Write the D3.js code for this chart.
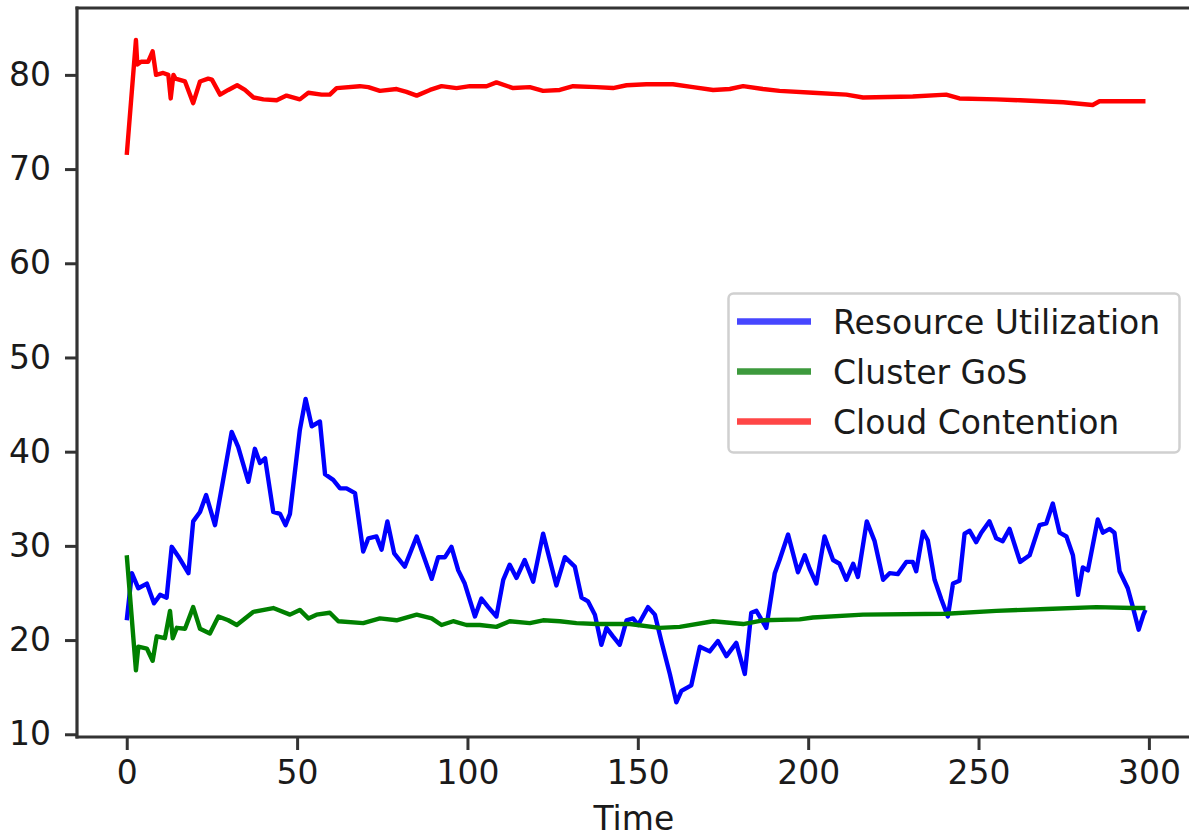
<!DOCTYPE html>
<html>
<head>
<meta charset="utf-8">
<script src="https://cdn.jsdelivr.net/npm/d3@7"></script>
<style>
  html, body { margin: 0; padding: 0; background: #fff; }
  svg { display: block; font-family: "DejaVu Sans", sans-serif; }
</style>
</head>
<body>
<svg id="chart" width="1189" height="839"></svg>
<script>
// ---- data ----
const seriesNames = ["Resource Utilization", "Cluster GoS", "Cloud Contention"];
const seriesColors = ["#0000ff", "#008000", "#ff0000"];
const legendColors = ["#4646ff", "#3d9a3d", "#ff4646"];

const tRU = [0,1.5,3.4,5.9,8.0,9.8,11.7,13.2,15.1,18.1,19.5,21.5,23.3,25.9,28.3,30.8,32.7,35.7,37.6,39.1,40.6,43.0,45.0,46.6,47.9,50.8,52.5,54.3,56.7,58.2,60.6,62.6,64.5,67.0,69.4,70.9,73.3,74.8,76.5,78.5,81.6,85.1,89.5,91.4,93.4,95.3,97.3,99.2,102.2,104.1,106.1,108.5,110.5,112.4,114.4,116.8,119.3,122.2,126.1,128.6,131.5,133.5,135.4,137.4,139.3,140.8,142.7,144.7,146.7,148.6,150.1,153.0,155.0,156.9,159.4,161.3,162.8,165.7,168.2,171.1,173.5,176.0,178.9,181.4,183.3,184.8,187.7,190.2,191.6,194.1,197.0,199.0,200.4,202.4,204.8,207.3,209.2,211.2,213.2,214.6,217.2,219.5,222.0,223.9,226.3,228.8,230.7,231.7,233.7,235.1,237.1,239.1,241.0,242.5,244.4,245.9,247.4,249.3,250.8,253.2,255.2,257.1,259.1,262.2,265.0,267.9,269.9,271.8,273.8,275.8,277.7,279.2,280.6,282.1,285.0,286.5,288.5,289.9,291.4,293.8,295.3,297.0,298.4,299];
const vRU = [22.1,27.1,25.5,26.0,23.9,24.8,24.5,29.9,28.9,27.1,32.6,33.6,35.4,32.2,37.0,42.1,40.5,36.8,40.3,38.8,39.3,33.6,33.4,32.2,33.4,42.3,45.6,42.7,43.2,37.6,37.0,36.1,36.1,35.6,29.4,30.8,31.0,29.6,32.6,29.2,27.8,31.0,26.5,28.8,28.8,29.9,27.4,26.0,22.5,24.4,23.5,22.5,26.4,28.0,26.6,28.5,26.2,31.3,25.8,28.8,27.8,24.5,24.1,22.7,19.5,21.3,20.4,19.5,22.1,22.3,21.6,23.5,22.7,19.9,16.4,13.4,14.6,15.2,19.3,18.8,19.9,18.3,19.7,16.4,22.9,23.1,21.3,27.1,28.5,31.2,27.2,29.0,27.6,26.0,31.0,28.5,28.1,26.4,28.1,26.7,32.6,30.5,26.4,27.1,27.0,28.3,28.3,27.3,31.5,30.6,26.4,24.3,22.5,26.0,26.3,31.3,31.6,30.4,31.4,32.6,30.8,30.5,31.8,28.3,29.0,32.2,32.4,34.5,31.4,31.0,29.0,24.8,27.7,27.4,32.8,31.4,31.8,31.4,27.3,25.5,23.5,21.1,22.7,23.2];

const tGoS = [0,2.7,3.4,5.9,7.6,8.8,11.2,12.7,13.5,14.7,17.1,19.5,21.5,24.4,26.9,29.8,32.3,37.2,43.0,47.9,50.8,53.3,55.7,59.6,62.1,69.4,74.3,79.2,85.1,89.5,92.4,95.8,99.7,103.6,108.5,112.4,118.3,122.2,127.1,132.0,137.9,147.6,156.4,162.3,172.1,180.9,186.7,197.5,201.4,216.1,240.5,255.2,269.9,284.6,295.3,299];
const vGoS = [29.0,16.8,19.3,19.1,17.8,20.4,20.2,23.1,20.2,21.3,21.2,23.5,21.2,20.7,22.5,22.1,21.6,23.0,23.4,22.7,23.2,22.3,22.7,22.9,22.0,21.8,22.3,22.1,22.7,22.3,21.6,22.0,21.6,21.6,21.4,22.0,21.8,22.1,22.0,21.8,21.7,21.7,21.3,21.4,22.0,21.7,22.1,22.2,22.4,22.7,22.8,23.1,23.3,23.5,23.4,23.4];

const tCC = [0,2.7,3.1,4.2,6.3,7.6,8.6,10.7,12.2,12.9,13.7,14.3,17.1,19.5,21.5,23.9,25.0,27.4,29.8,32.4,34.7,37.2,40.1,44.0,46.9,50.8,53.3,57.2,59.6,61.6,68.4,70.9,74.3,79.2,82.1,85.1,89.0,92.4,96.8,100.7,105.6,108.5,113.4,118.3,122.2,127.1,131.0,137.9,142.7,146.7,152.5,160.3,166.2,172.1,177.0,180.9,186.7,191.6,201.4,211.2,216.1,230.7,240.5,244.4,255.2,262.2,274.9,283.5,285.5,299];
const vCC = [71.5,83.7,81.1,81.4,81.4,82.5,80.0,80.2,80.0,77.5,80.0,79.6,79.3,77.0,79.3,79.6,79.5,77.9,78.4,78.9,78.4,77.6,77.4,77.3,77.8,77.4,78.1,77.9,77.9,78.6,78.8,78.7,78.3,78.5,78.2,77.8,78.4,78.8,78.6,78.8,78.8,79.2,78.6,78.7,78.3,78.4,78.8,78.7,78.6,78.9,79.0,79.0,78.7,78.4,78.5,78.8,78.5,78.3,78.1,77.9,77.6,77.7,77.9,77.5,77.4,77.3,77.1,76.8,77.2,77.2];

const xTicks = [0, 50, 100, 150, 200, 250, 300];
const yTicks = [10, 20, 30, 40, 50, 60, 70, 80];
const xLabel = "Time";

// ---- layout ----
const svg = d3.select("#chart");
const plot = { left: 77, top: 8, right: 1200, bottom: 737 };

const x = d3.scaleLinear().domain([-14.6, 315]).range([plot.left, plot.right]);
const y = d3.scaleLinear().domain([9.71, 87.1]).range([plot.bottom, plot.top]);

const fontSize = 33;
const axisColor = "#333";
const textColor = "#1a1a1a";

// lines
const series = [
  { t: tRU, v: vRU },
  { t: tGoS, v: vGoS },
  { t: tCC, v: vCC }
];
const line = d3.line().x(d => x(d[0])).y(d => y(d[1]));
[0, 1, 2].forEach(i => {
  const pts = series[i].t.map((t, k) => [t, series[i].v[k]]);
  svg.append("path")
    .datum(pts)
    .attr("d", line)
    .attr("fill", "none")
    .attr("stroke", seriesColors[i])
    .attr("stroke-width", 4.4)
    .attr("stroke-linejoin", "round");
});

// axes
const xAxis = d3.axisBottom(x).tickValues(xTicks).tickSize(13).tickPadding(11).tickFormat(d3.format("d"));
const gx = svg.append("g").attr("transform", `translate(0,${plot.bottom})`).call(xAxis);
gx.select(".domain").remove();
gx.selectAll(".tick line").attr("stroke", axisColor).attr("stroke-width", 3);
gx.selectAll(".tick text").attr("fill", textColor).style("font-size", fontSize + "px").style("font-family", "DejaVu Sans");

const yAxis = d3.axisLeft(y).tickValues(yTicks).tickSize(12).tickPadding(14).tickFormat(d3.format("d"));
const gy = svg.append("g").attr("transform", `translate(${plot.left},0)`).call(yAxis);
gy.select(".domain").remove();
gy.selectAll(".tick line").attr("stroke", axisColor).attr("stroke-width", 3);
gy.selectAll(".tick text").attr("fill", textColor).style("font-size", fontSize + "px").style("font-family", "DejaVu Sans");

// spines
svg.append("line").attr("x1", plot.left).attr("x2", plot.left).attr("y1", plot.top - 1.5).attr("y2", plot.bottom + 1.5)
  .attr("stroke", axisColor).attr("stroke-width", 3.2);
svg.append("line").attr("x1", plot.left - 1.5).attr("x2", 1189).attr("y1", plot.top).attr("y2", plot.top)
  .attr("stroke", axisColor).attr("stroke-width", 3.2);
svg.append("line").attr("x1", plot.left - 1.5).attr("x2", 1189).attr("y1", plot.bottom).attr("y2", plot.bottom)
  .attr("stroke", axisColor).attr("stroke-width", 3.2);

// x label
svg.append("text").attr("x", (x(0) + x(300)) / 2 - 4).attr("y", 830)
  .attr("text-anchor", "middle").attr("fill", textColor)
  .style("font-size", fontSize + "px").text(xLabel);

// legend
const lg = svg.append("g");
lg.append("rect").attr("x", 728.5).attr("y", 293.5).attr("width", 451).attr("height", 159)
  .attr("rx", 5).attr("fill", "#fff").attr("fill-opacity", 0.85)
  .attr("stroke", "#d0d0d0").attr("stroke-width", 2.5);
seriesNames.forEach((name, i) => {
  const cy = 321.5 + i * 50;
  lg.append("line").attr("x1", 737).attr("x2", 811).attr("y1", cy).attr("y2", cy)
    .attr("stroke", legendColors[i]).attr("stroke-width", 6.5);
  lg.append("text").attr("x", 833).attr("y", cy + 12.5)
    .attr("fill", textColor).style("font-size", fontSize + "px").text(name);
});
</script>
</body>
</html>
